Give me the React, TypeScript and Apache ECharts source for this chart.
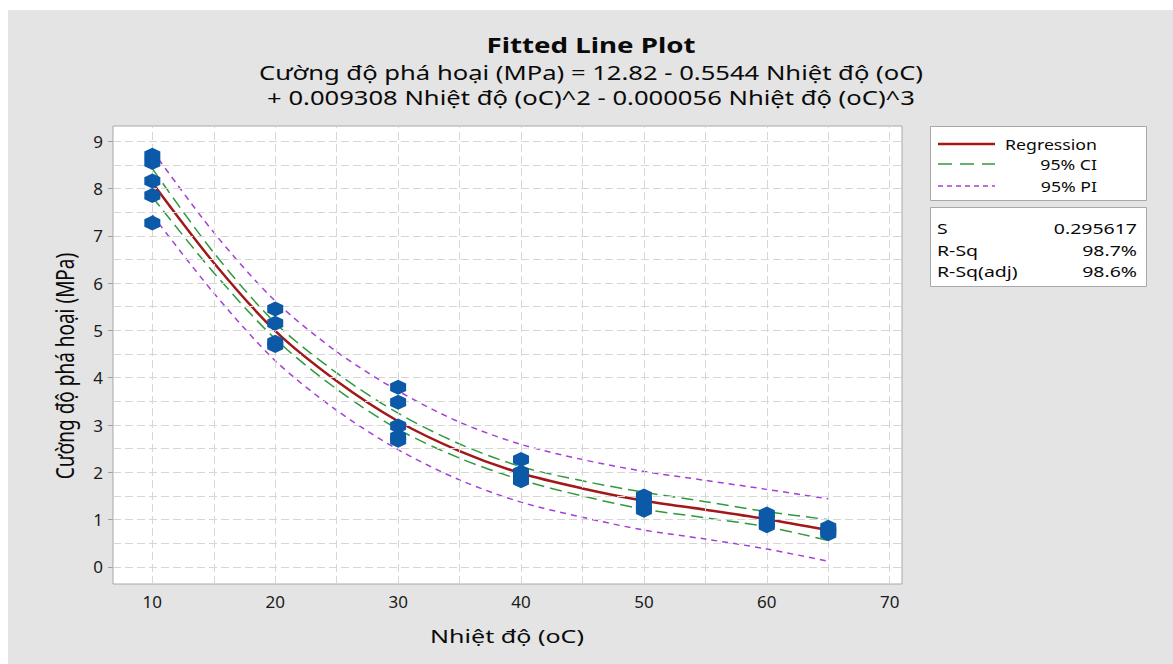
import React, { useEffect, useRef } from "react";
import * as echarts from "echarts";

// Observed data (temperature °C, failure strength MPa)
const obsTemp = [10, 10, 10, 10, 10, 20, 20, 20, 20, 30, 30, 30, 30, 30, 40, 40, 40, 40, 50, 50, 50, 50, 60, 60, 60, 60, 65, 65, 65];
const obsStrength = [8.7, 8.55, 8.16, 7.85, 7.27, 5.45, 5.15, 4.75, 4.68, 3.8, 3.48, 2.98, 2.75, 2.68, 2.27, 2.0, 1.9, 1.82, 1.5, 1.4, 1.27, 1.2, 1.12, 1.05, 0.92, 0.87, 0.84, 0.76, 0.7];

// Fitted curve and bands read at sample temperatures
const fitTemp = [10, 15, 20, 25, 30, 35, 40, 45, 50, 55, 60, 65];
const regression = [8.12, 6.43, 4.99, 3.93, 3.08, 2.45, 1.98, 1.66, 1.4, 1.21, 1.01, 0.78];
const ciUpper = [8.42, 6.64, 5.16, 4.1, 3.25, 2.6, 2.12, 1.82, 1.58, 1.38, 1.17, 1.0];
const ciLower = [7.82, 6.22, 4.82, 3.76, 2.91, 2.3, 1.84, 1.5, 1.22, 1.04, 0.85, 0.56];
const piUpper = [8.8, 7.07, 5.62, 4.55, 3.72, 3.06, 2.59, 2.27, 2.02, 1.83, 1.64, 1.44];
const piLower = [7.44, 5.79, 4.36, 3.31, 2.48, 1.84, 1.37, 1.05, 0.78, 0.59, 0.38, 0.12];

// Axis ticks and gridlines
const xTickLabels = [10, 20, 30, 40, 50, 60, 70];
const yTickLabels = [0, 1, 2, 3, 4, 5, 6, 7, 8, 9];
const xGrid = [10, 15, 20, 25, 30, 35, 40, 45, 50, 55, 60, 65, 70];
const yGrid = [0, 0.5, 1, 1.5, 2, 2.5, 3, 3.5, 4, 4.5, 5, 5.5, 6, 6.5, 7, 7.5, 8, 8.5, 9];

const legendItems = ["Regression", "95% CI", "95% PI"];
const stats = [
  ["S", "0.295617"],
  ["R-Sq", "98.7%"],
  ["R-Sq(adj)", "98.6%"],
];

const FONT = "'Noto Sans', 'Open Sans', sans-serif";
const RED = "#a01818";
const GREEN = "#2f9a3c";
const PURPLE = "#a63fd6";
const BLUE = "#0c59a8";
const SX = 1.28; // horizontal stretch seen in the reference texts

const zip = (xs: number[], ys: number[]) => xs.map((x, i) => [x, ys[i]]);

const txt = (text: string, x: number, y: number, font: string, align: string, sx = SX) => ({
  type: "text",
  x,
  y,
  scaleX: sx,
  style: { text, font, fill: "#0a0a0a", align, verticalAlign: "middle" },
});

export default function App() {
  const ref = useRef<HTMLDivElement>(null);
  useEffect(() => {
    if (!ref.current) return;
    const chart = echarts.init(ref.current, null, { renderer: "svg" });
    const hexagon = "path://M0 -10 L8.66 -5 L8.66 5 L0 10 L-8.66 5 L-8.66 -5 Z";
    const gridLineStyle = { color: "#d6d6d6", type: [8, 4] as any, width: 1 };
    const legendLineStyles = [
      { stroke: RED, lineWidth: 2.5 },
      { stroke: GREEN, lineWidth: 1.5, lineDash: [14, 8] },
      { stroke: PURPLE, lineWidth: 1.5, lineDash: [5, 4] },
    ];
    const legendY = [134, 154, 176];
    const option: any = {
      animation: false,
      backgroundColor: "#e4e4e4",
      textStyle: { fontFamily: FONT },
      grid: {
        left: 105,
        top: 116,
        right: 271,
        bottom: 80,
        show: true,
        backgroundColor: "#ffffff",
        borderColor: "#a8a8a8",
        borderWidth: 1,
      },
      xAxis: {
        type: "value",
        min: 6.8,
        max: 71,
        axisLine: { show: false },
        splitLine: { show: false },
        axisTick: { show: true, customValues: xTickLabels, length: 5, lineStyle: { color: "#a0a0a0" } },
        axisLabel: {
          customValues: xTickLabels,
          color: "#1a1a1a",
          fontSize: 17,
          fontFamily: FONT,
          margin: 9,
        },
      },
      yAxis: {
        type: "value",
        min: -0.36,
        max: 9.32,
        axisLine: { show: false },
        splitLine: { show: false },
        axisTick: { show: true, customValues: yTickLabels, length: 5, lineStyle: { color: "#a0a0a0" } },
        axisLabel: {
          customValues: yTickLabels,
          color: "#1a1a1a",
          fontSize: 17,
          fontFamily: FONT,
          margin: 10,
        },
      },
      series: [
        {
          type: "line",
          data: [],
          silent: true,
          markLine: {
            silent: true,
            symbol: "none",
            label: { show: false },
            lineStyle: gridLineStyle,
            data: [...xGrid.map((v) => ({ xAxis: v })), ...yGrid.map((v) => ({ yAxis: v }))],
          },
        },
        {
          type: "line",
          data: zip(fitTemp, piUpper),
          smooth: 0.3,
          showSymbol: false,
          lineStyle: { color: PURPLE, width: 1.5, type: [6, 5] },
          z: 3,
        },
        {
          type: "line",
          data: zip(fitTemp, piLower),
          smooth: 0.3,
          showSymbol: false,
          lineStyle: { color: PURPLE, width: 1.5, type: [6, 5] },
          z: 3,
        },
        {
          type: "line",
          data: zip(fitTemp, ciUpper),
          smooth: 0.3,
          showSymbol: false,
          lineStyle: { color: GREEN, width: 1.5, type: [12, 6] },
          z: 3,
        },
        {
          type: "line",
          data: zip(fitTemp, ciLower),
          smooth: 0.3,
          showSymbol: false,
          lineStyle: { color: GREEN, width: 1.5, type: [12, 6] },
          z: 3,
        },
        {
          type: "line",
          data: zip(fitTemp, regression),
          smooth: 0.3,
          showSymbol: false,
          lineStyle: { color: RED, width: 2.5 },
          z: 4,
        },
        {
          type: "scatter",
          data: zip(obsTemp, obsStrength),
          symbol: hexagon,
          symbolSize: [16, 15],
          itemStyle: { color: BLUE, opacity: 1 },
          z: 5,
        },
      ],
      graphic: [
        txt("Fitted Line Plot", 583, 34, `bold 22px ${FONT}`, "center", 1.26),
        txt("Cường độ phá hoại (MPa) = 12.82 - 0.5544 Nhiệt độ (oC)", 583, 62, `20px ${FONT}`, "center"),
        txt("+ 0.009308 Nhiệt độ (oC)^2 - 0.000056 Nhiệt độ (oC)^3", 583, 87, `20px ${FONT}`, "center"),
        txt("Nhiệt độ (oC)", 499, 626, `19px ${FONT}`, "center", 1.32),
        {
          type: "text",
          x: 56,
          y: 356,
          rotation: Math.PI / 2,
          scaleY: 1.3,
          style: {
            text: "Cường độ phá hoại (MPa)",
            font: `19px ${FONT}`,
            fill: "#0a0a0a",
            align: "center",
            verticalAlign: "middle",
          },
        },
        // legend box
        {
          type: "rect",
          shape: { x: 922.5, y: 116.5, width: 216, height: 74 },
          style: { fill: "#fff", stroke: "#a8a8a8", lineWidth: 1 },
        },
        ...legendItems.flatMap((name, i) => [
          {
            type: "line",
            shape: { x1: 930, y1: legendY[i], x2: 987, y2: legendY[i] },
            style: legendLineStyles[i],
          },
          txt(name, 1089, legendY[i], `15px ${FONT}`, "right", 1.18),
        ]),
        // stats box
        {
          type: "rect",
          shape: { x: 922.5, y: 197.5, width: 216, height: 79 },
          style: { fill: "#fff", stroke: "#a8a8a8", lineWidth: 1 },
        },
        ...stats.flatMap(([k, v], i) => [
          txt(k, 929, 218 + i * 21.5, `15px ${FONT}`, "left", 1.3),
          txt(v, 1129, 218 + i * 21.5, `15px ${FONT}`, "right", 1.3),
        ]),
      ],
    };
    chart.setOption(option);
    return () => chart.dispose();
  }, []);
  return (
    <div
      ref={ref}
      style={{ position: "absolute", left: 8, top: 10, width: 1165, height: 654 }}
    />
  );
}
